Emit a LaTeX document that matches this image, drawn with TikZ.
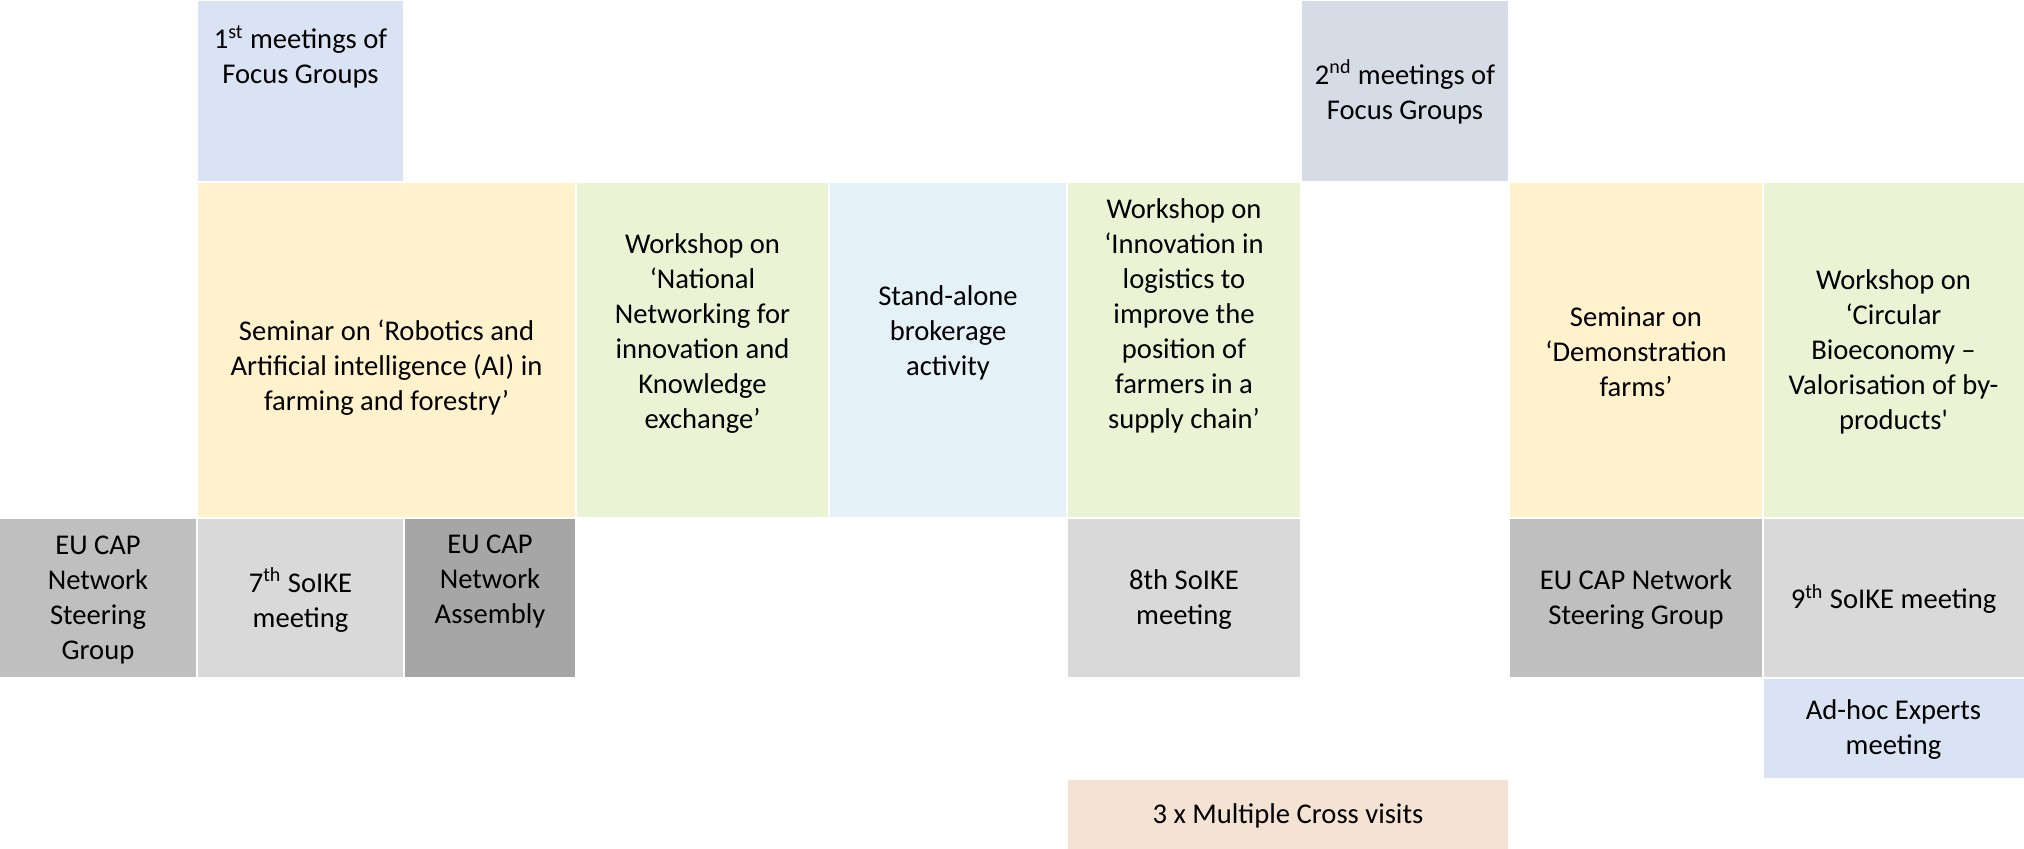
\documentclass[tikz,border=0pt]{standalone}
\usepackage{fontspec}
\setmainfont{Carlito}
\definecolor{focusA}{HTML}{DAE3F3}
\definecolor{focusB}{HTML}{D6DCE5}
\definecolor{semyellow}{HTML}{FFF2CC}
\definecolor{wsgreen}{HTML}{EAF3D4}
\definecolor{standblue}{HTML}{E4F1F7}
\definecolor{greyA}{HTML}{BFBFBF}
\definecolor{greyB}{HTML}{D9D9D9}
\definecolor{greyC}{HTML}{A6A6A6}
\definecolor{crossorange}{HTML}{F4E3D2}
\newcommand{\gridcell}[6]{%
  \node[cellbox, fill=#6, minimum width={(#4-#2-2)*0.5pt}, minimum height={(#5-#3-2)*0.5pt}] (#1) at ({(#2+#4)/2},{(#3+#5)/2}) {};}
\tikzset{
  cellbox/.style={rectangle, draw=none, inner sep=0pt, outer sep=0pt},
  txt/.style={align=center, inner sep=0pt, font=\fontsize{14.3}{17.5}\selectfont, text=black}
}
\begin{document}
\begin{tikzpicture}[x=0.5pt, y=-0.5pt]
\useasboundingbox (0,0) rectangle (2024,849);
% top row
\gridcell{focus1}{197}{0}{404}{182}{focusA}
\gridcell{focus2}{1301}{0}{1509}{182}{focusB}
% middle row
\gridcell{semrob}{197}{182}{576}{518}{semyellow}
\gridcell{wsnat}{576}{182}{829}{518}{wsgreen}
\gridcell{stand}{829}{182}{1067}{518}{standblue}
\gridcell{wsinno}{1067}{182}{1301}{518}{wsgreen}
\gridcell{semdemo}{1509}{182}{1763}{518}{semyellow}
\gridcell{wscirc}{1763}{182}{2025}{518}{wsgreen}
% lower row
\gridcell{eusgA}{-1}{518}{197}{678}{greyA}
\gridcell{soikeA}{197}{518}{404}{678}{greyB}
\gridcell{assembly}{404}{518}{576}{678}{greyC}
\gridcell{soikeB}{1067}{518}{1301}{678}{greyB}
\gridcell{eusgB}{1509}{518}{1763}{678}{greyA}
\gridcell{soikeC}{1763}{518}{2025}{678}{greyB}
% bottom
\gridcell{adhoc}{1763}{678}{2025}{779}{focusA}
\gridcell{cross}{1067}{779}{1509}{850}{crossorange}
% texts
\node[txt] (t-focus1) at (300.5,57) {1\textsuperscript{st} meetings of\\Focus Groups};
\node[txt] (t-focus2) at (1405,92) {2\textsuperscript{nd} meetings of\\Focus Groups};
\node[txt] (t-semrob) at (386.5,368) {Seminar on ‘Robotics and\\Artificial intelligence (AI) in\\farming and forestry’};
\node[txt] (t-wsnat) at (702.5,334) {Workshop on\\‘National\\Networking for\\innovation and\\Knowledge\\exchange’};
\node[txt] (t-stand) at (948,333) {Stand-alone\\brokerage\\activity};
\node[txt] (t-wsinno) at (1184,316) {Workshop on\\‘Innovation in\\logistics to\\improve the\\position of\\farmers in a\\supply chain’};
\node[txt] (t-semdemo) at (1636,352) {Seminar on\\‘Demonstration\\farms’};
\node[txt] (t-wscirc) at (1893.5,352) {Workshop on\\‘Circular\\Bioeconomy –\\Valorisation of by-\\products\textquotesingle};
\node[txt] (t-eusgA) at (98,600) {EU CAP\\Network\\Steering\\Group};
\node[txt] (t-soikeA) at (300.5,600) {7\textsuperscript{th} SoIKE\\meeting};
\node[txt] (t-assembly) at (490,582) {EU CAP\\Network\\Assembly};
\node[txt] (t-soikeB) at (1184,600) {8th SoIKE\\meeting};
\node[txt] (t-eusgB) at (1636,600) {EU CAP Network\\Steering Group};
\node[txt] (t-soikeC) at (1893.5,599) {9\textsuperscript{th} SoIKE meeting};
\node[txt] (t-adhoc) at (1893.5,730) {Ad-hoc Experts\\meeting};
\node[txt] (t-cross) at (1288,816) {3 x Multiple Cross visits};
\end{tikzpicture}
\end{document}
